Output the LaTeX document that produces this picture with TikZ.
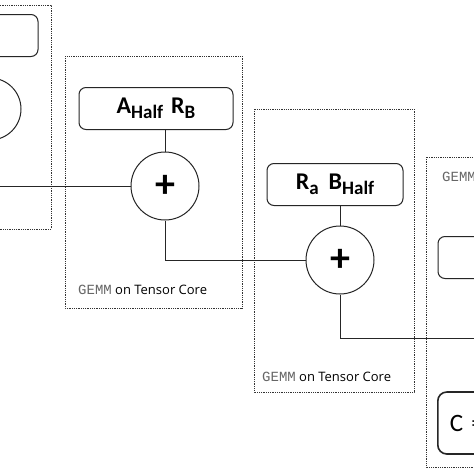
\documentclass[tikz,border=0pt]{standalone}
\usepackage{fontspec}
\setmainfont{Carlito}
\setsansfont{Open Sans}
\setmonofont{Liberation Mono}

\newcommand{\lowidx}[1]{\raisebox{-5pt}{\fontsize{19}{19}\selectfont #1}}
\newcommand{\gemmtag}{{\color{black!60}\fontsize{14}{14}\selectfont\ttfamily GEMM}}

\begin{document}
\begin{tikzpicture}[
	x = 1pt,
	y = -1pt,
	frame/.style = {
		draw = black!80,
		densely dotted,
		line width = 0.8pt
	},
	operands/.style = {
		draw = black!85,
		rectangle,
		rounded corners = 7pt,
		line width = 1pt,
		inner sep = 0,
		minimum height = 42pt,
		font = \fontsize{24}{24}\selectfont\bfseries
	},
	acc/.style = {
		draw = black!85,
		circle,
		line width = 1pt,
		inner sep = 0,
		minimum size = 68pt,
		font = \fontsize{40}{40}\selectfont\bfseries
	},
	result/.style = {
		draw = black!85,
		rectangle,
		rounded corners = 9pt,
		line width = 1.6pt,
		inner xsep = 12pt,
		text width = 130pt,
		align = left,
		minimum height = 62pt,
		font = \fontsize{25}{25}\selectfont
	},
	wire/.style = {
		draw = black!85,
		line width = 0.8pt
	},
	caption/.style = {
		anchor = west,
		inner sep = 0,
		font = \fontsize{13}{13}\selectfont\sffamily
	}
]
	\useasboundingbox (0, 0) rectangle (474, 474);
	\fill [white] (0, 0) rectangle (474, 474);
	\clip (0, 0) rectangle (474, 474);

	% dotted frames, one per tensor core step
	\draw [frame] (-140,   5) rectangle ( 51, 229);
	\draw [frame] (  65,  56) rectangle (242, 308);
	\draw [frame] ( 254, 109) rectangle (414, 392);
	\draw [frame] ( 426, 157) rectangle (620, 467);

	% operand boxes
	\node [operands, minimum width = 154pt] (ops0) at (-39,  35.5) {};
	\node [operands, minimum width = 154pt] (ops1) at (156, 108.5) {A\lowidx{Half}\hspace{8pt}R\lowidx{B}};
	\node [operands, minimum width = 136pt] (ops2) at (335, 184.5) {R\lowidx{a}\hspace{10pt}B\lowidx{Half}};
	\node [operands, minimum width = 136pt] (ops3) at (506, 257.5) {};

	% accumulators (plus0 and plus3 lie mostly outside the page)
	\node [acc, minimum size = 62pt] (plus0) at (-10, 109) {};
	\node [acc] (plus1) at (165, 186) {+};
	\node [acc] (plus2) at (340, 260) {+};
	\node [acc] (plus3) at (520, 338) {};

	\node [result, anchor = west] (res) at (437, 423) {C = };

	% captions
	\node [caption] (cap1) at ( 78, 290) {\gemmtag\ on Tensor Core};
	\node [caption] (cap2) at (262, 377) {\gemmtag\ on Tensor Core};
	\node [caption] (cap3) at (442, 177) {\gemmtag};

	% connectors
	\draw [wire] (ops0.south -| plus0) -- (plus0.north);
	\draw [wire] (ops1.south -| plus1) -- (plus1.north);
	\draw [wire] (ops2.south -| plus2) -- (plus2.north);
	\draw [wire] (plus0.south) |- (plus1.west);
	\draw [wire] (plus1.south) |- (plus2.west);
	\draw [wire] (plus2.south) |- (plus3.west);
\end{tikzpicture}
\end{document}
